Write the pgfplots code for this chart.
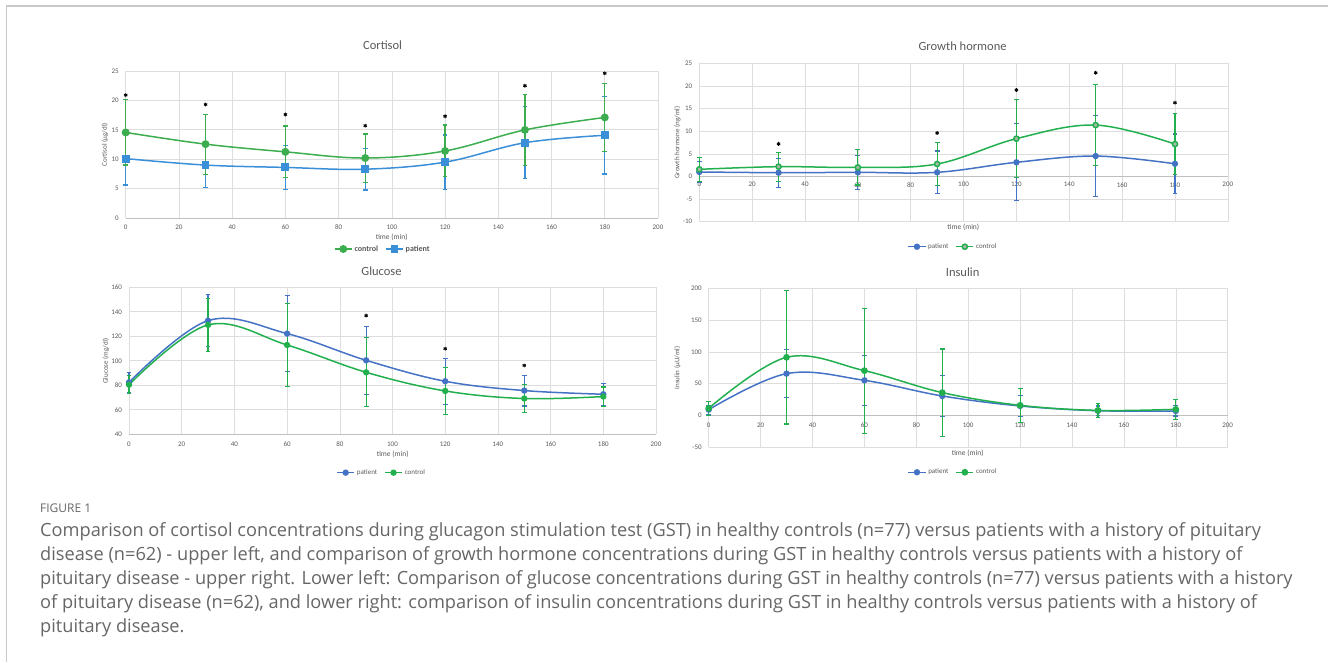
\documentclass[border=0pt]{standalone}
\usepackage{fontspec}
\setmainfont{Carlito}
\newfontfamily\capfont{Open Sans}
\usepackage{pgfplots}
\pgfplotsset{compat=1.18}
\usepackage{pgfplotstable}
\definecolor{gridc}{HTML}{DDDDDD}
\definecolor{axc}{HTML}{BFBFBF}
\definecolor{tickc}{HTML}{595959}
\definecolor{capc}{HTML}{666666}
\definecolor{frame}{HTML}{C8C8C8}
\definecolor{cgreen}{HTML}{3DAE4F}
\definecolor{cblue}{HTML}{3A8FD9}
\definecolor{xblue}{HTML}{4472C4}
\definecolor{xgreen}{HTML}{22B04F}
\definecolor{ghfill}{HTML}{A8B8A8}

% cortisol
\pgfplotstableread{
t y e
0 10.1 4.5
30 9.0 3.8
60 8.6 3.75
90 8.3 3.55
120 9.5 4.6
150 12.8 6.1
180 14.07 6.6
}\cortP
\pgfplotstableread{
t y e
0 14.55 5.55
30 12.56 5.1
60 11.25 4.4
90 10.2 4.1
120 11.4 4.4
150 14.98 6.0
180 17.1 5.8
}\cortC
% growth hormone
\pgfplotstableread{
t y e
0 0.99 2.3
30 0.83 3.2
60 0.91 3.8
90 0.91 4.7
120 3.12 8.5
150 4.5 9.0
180 2.8 6.6
}\ghP
\pgfplotstableread{
t y e
0 1.57 2.6
30 2.16 3.2
60 2.0 3.9
90 2.75 4.8
120 8.35 8.6
150 11.35 9.0
180 7.15 6.7
}\ghC
% glucose
\pgfplotstableread{
t y e
0 82.4 8
30 132.8 21
60 122.2 31
90 100.4 27.6
120 83.3 18.8
150 75.7 12.6
180 72.7 9
}\gluP
\pgfplotstableread{
t y e
0 80.5 7.5
30 129.3 21.8
60 112.9 33.8
90 90.6 28.2
120 75.4 19
150 69.2 11.7
180 70.8 7.8
}\gluC
% insulin
\pgfplotstableread{
t y e
0 9.2 7
30 65.8 38
60 55.3 39.6
90 30.7 31.7
120 15.0 16.6
150 7.5 7.5
180 7.1 8
}\insP
\pgfplotstableread{
t y e
0 11.3 11
30 91.5 104.8
60 70.5 98.3
90 36.0 68.6
120 16.0 26.4
150 8.0 11
180 9.7 16
}\insC

\pgfplotsset{
 excel/.style={
  scale only axis, anchor=south west,
  xmin=0, xmax=200, xtick={0,20,...,200},
  grid=major, major grid style={draw=gridc, line width=0.6pt},
  axis line style={draw=none},
  major tick length=0pt,
  tick label style={font=\fontsize{7}{8}\selectfont, text=tickc},
  /pgf/number format/assume math mode=true,
  yticklabel style={anchor=east, xshift=-3.5pt},
  clip=false,
  legend style={draw=none, fill=none, font=\fontsize{7}{8}\selectfont, text=tickc,
    legend columns=-1, anchor=center,
    /tikz/every even column/.append style={column sep=5pt}},
  legend cell align=left,
 },
 ser/.style n args={4}{color=#1, line width=1.5pt, smooth, tension=0.6,
   mark=#2, mark size=#3, mark options={solid, fill=#4},
   error bars/y dir=both, error bars/y explicit,
   error bars/error mark=-,
   error bars/error bar style={line width=1.2pt, #1},
   error bars/error mark options={rotate=90, line width=1.2pt, mark size=2.4pt, #1}},
 stars/.style={only marks, mark=asterisk, mark size=1.9pt, line width=0.9pt, black, forget plot},
}

\begin{document}
\begin{tikzpicture}[x=1pt,y=1pt]
\path[use as bounding box] (0,0) rectangle (1328,662);
\draw[frame, line width=1.2pt] (6.5,0) -- (6.5,656) -- (1328,656);

% ---------------- Cortisol
\begin{axis}[excel, at={(125.7pt,444pt)}, width=532.3pt, height=147pt,
  ymin=0, ymax=25, ytick={0,5,...,25},
  xticklabel style={anchor=center, yshift=-9pt},
  reverse legend,
  legend style={at={(0.483,-0.211)}, font=\fontsize{8}{9}\selectfont\bfseries}]
\draw[axc, line width=0.8pt] (axis cs:0,0) -- (axis cs:200,0);
\addplot[ser={cblue}{square*}{3.2pt}{cblue}] table[x=t,y=y,y error=e]{\cortP};
\addlegendentry{patient}
\addplot[ser={cgreen}{*}{3.2pt}{cgreen}] table[x=t,y=y,y error=e]{\cortC};
\addlegendentry{control}
\addplot[stars] coordinates {(0,20.9) (30,19.3) (60,17.6) (90,15.7) (120,17.3) (150,22.5) (180,24.6)};
\end{axis}

% ---------------- Growth hormone
\begin{axis}[excel, at={(699.3pt,440.3pt)}, width=528.5pt, height=158.4pt,
  ymin=-10, ymax=25, ytick={-10,-5,...,25},
  xticklabel style={anchor=center, yshift=37pt},
  legend style={at={(0.48,-0.158)}}]
\draw[axc, line width=0.8pt] (axis cs:0,0) -- (axis cs:200,0);
\addplot[ser={xblue}{*}{2.4pt}{xblue}] table[x=t,y=y,y error=e]{\ghP};
\addlegendentry{patient}
\addplot[ser={xgreen}{*}{2.6pt}{ghfill}] table[x=t,y=y,y error=e]{\ghC};
\addlegendentry{control}
\addplot[stars] coordinates {(30,7.2) (90,9.6) (120,19.1) (150,22.9) (180,16.3)};
\end{axis}

% ---------------- Glucose
\begin{axis}[excel, at={(129pt,227.7pt)}, width=527pt, height=147pt,
  ymin=40, ymax=160, ytick={40,60,...,160},
  xticklabel style={anchor=center, yshift=-9.5pt},
  legend style={at={(0.4795,-0.261)}}]
\draw[axc, line width=0.8pt] (axis cs:0,40) -- (axis cs:200,40);
\addplot[ser={xblue}{*}{2.4pt}{xblue}] table[x=t,y=y,y error=e]{\gluP};
\addlegendentry{patient}
\addplot[ser={xgreen}{*}{2.4pt}{xgreen}] table[x=t,y=y,y error=e]{\gluC};
\addlegendentry{control}
\addplot[stars] coordinates {(90,136.9) (120,109.9) (150,96.2)};
\end{axis}

% ---------------- Insulin
\begin{axis}[excel, at={(708.7pt,214.7pt)}, width=519pt, height=159pt,
  ymin=-50, ymax=200, ytick={-50,0,...,200},
  xticklabel style={anchor=center, yshift=22.3pt},
  legend style={at={(0.4707,-0.157)}}]
\draw[axc, line width=0.8pt] (axis cs:0,0) -- (axis cs:200,0);
\addplot[ser={xblue}{*}{2.4pt}{xblue}] table[x=t,y=y,y error=e]{\insP};
\addlegendentry{patient}
\addplot[ser={xgreen}{*}{2.6pt}{xgreen}] table[x=t,y=y,y error=e]{\insC};
\addlegendentry{control}
\end{axis}

% titles
\begin{scope}[every node/.style={text=tickc, inner sep=0pt}]
\node[font=\fontsize{12.5}{14}\selectfont] at (382.6,616.3) {Cortisol};
\node[font=\fontsize{12.5}{14}\selectfont] at (962.6,615.3) {Growth hormone};
\node[font=\fontsize{12.5}{14}\selectfont] at (381.5,390.3) {Glucose};
\node[font=\fontsize{12.5}{14}\selectfont] at (962.6,389.3) {Insulin};
% y labels
\node[font=\fontsize{7}{8}\selectfont, rotate=90] at (105,517.5) {Cortisol (μg/dl)};
\node[font=\fontsize{7}{8}\selectfont, rotate=90] at (677.3,519.5) {Growth hormone (ng/ml)};
\node[font=\fontsize{7}{8}\selectfont, rotate=90] at (106,301.2) {Glucose (mg/dl)};
\node[font=\fontsize{7}{8}\selectfont, rotate=90] at (677.3,294.2) {Insulin (μU/ml)};
% x labels
\node[font=\fontsize{7.5}{8}\selectfont] at (391.7,425) {time (min)};
\node[font=\fontsize{7.5}{8}\selectfont] at (963.3,434.3) {time (min)};
\node[font=\fontsize{7.5}{8}\selectfont] at (392.7,208) {time (min)};
\node[font=\fontsize{7.5}{8}\selectfont] at (967.7,208.7) {time (min)};
\end{scope}

% caption
\begin{scope}[every node/.style={text=capc, inner sep=0pt, anchor=base west}]
\node[font=\capfont\fontsize{12}{14}\selectfont] at (40,150) {FIGURE 1};
\node[font=\capfont\fontsize{18.2}{20}\selectfont] at (40,126) {Comparison of cortisol concentrations during glucagon stimulation test (GST) in healthy controls (n=77) versus patients with a history of pituitary};
\node[font=\capfont\fontsize{18.2}{20}\selectfont] at (40,102) {disease (n=62) - upper left, and comparison of growth hormone concentrations during GST in healthy controls versus patients with a history of};
\node[font=\capfont\fontsize{18.2}{20}\selectfont] at (40,78) {pituitary disease - upper right. Lower left: Comparison of glucose concentrations during GST in healthy controls (n=77) versus patients with a history};
\node[font=\capfont\fontsize{18.2}{20}\selectfont] at (40,54) {of pituitary disease (n=62), and lower right: comparison of insulin concentrations during GST in healthy controls versus patients with a history of};
\node[font=\capfont\fontsize{18.2}{20}\selectfont] at (40,30) {pituitary disease.};
\end{scope}
\end{tikzpicture}
\end{document}
